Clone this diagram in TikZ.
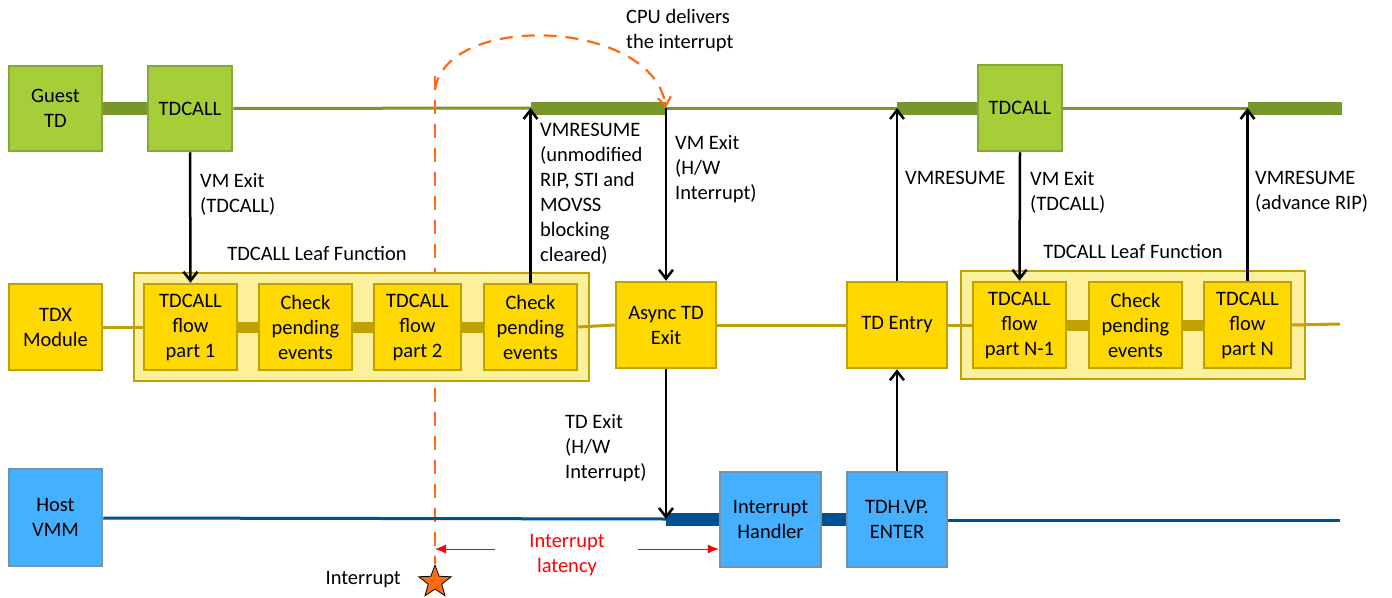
\documentclass[tikz,border=0pt]{standalone}
\usepackage{fontspec}
\setmainfont{Carlito}
\usetikzlibrary{arrows.meta, positioning, shapes.geometric, calc}
\definecolor{guestFill}{HTML}{A6CE39}
\definecolor{guestDraw}{HTML}{86A83A}
\definecolor{guestBar}{HTML}{77962B}
\definecolor{tdxFill}{HTML}{FFD800}
\definecolor{tdxDraw}{HTML}{BFA100}
\definecolor{leafFill}{HTML}{FBF09B}
\definecolor{hostFill}{HTML}{45B0FF}
\definecolor{hostDraw}{HTML}{6E95B0}
\definecolor{hostBar}{HTML}{00518F}
\definecolor{irqOrange}{HTML}{FF6A13}
\tikzset{
  boxG/.style={rectangle, draw=guestDraw, fill=guestFill, line width=2.5pt,
               align=center, inner sep=2pt},
  boxY/.style={rectangle, draw=tdxDraw, fill=tdxFill, line width=2.5pt,
               align=center, inner sep=2pt},
  boxL/.style={rectangle, draw=tdxDraw, fill=leafFill, line width=2.5pt},
  boxH/.style={rectangle, draw=hostDraw, fill=hostFill, line width=2.5pt,
               align=center, inner sep=2pt},
  lineG/.style={guestBar, line width=3pt},
  barG/.style={guestBar, line width=13pt},
  lineY/.style={tdxDraw, line width=3pt},
  barY/.style={tdxDraw, line width=11pt},
  lineH/.style={hostBar, line width=3pt},
  barH/.style={hostBar, line width=13pt},
  arrowK/.style={-{Straight Barb[length=9pt, width=14pt]}, black, line width=2.5pt},
  arrowO/.style={-{Straight Barb[length=9pt, width=13pt]}, irqOrange,
                 line width=2.2pt, dash pattern=on 13pt off 9pt},
  arrowLat/.style={-{Latex[length=11pt, width=9pt]}, red, line width=0.8pt},
  lbl/.style={align=left, inner sep=0pt, anchor=north west},
}

\begin{document}
\begin{tikzpicture}[x=1pt, y=-1pt, font=\fontsize{20.5}{25}\selectfont]
    \useasboundingbox (0,0) rectangle (1392,597);
    % guest TD row
    \coordinate (gA1) at (531,108); \coordinate (gA2) at (666,108);
    \coordinate (gB1) at (897,108); \coordinate (gC1) at (1248,108);
    \coordinate (gEnd) at (1342,108);
    \node[boxG, minimum width=93pt, minimum height=85pt] (guest) at (55.5,108.5) {Guest\\TD};
    \node[boxG, minimum width=84pt, minimum height=85pt] (tdcall1) at (190,108.5) {TDCALL};
    \node[boxG, minimum width=84pt, minimum height=86pt] (tdcall2) at (1020,108) {TDCALL};
    \draw[barG] (guest.east) -- (tdcall1.west);
    \draw[lineG] (tdcall1.east) -- (gA1);
    \draw[lineG] (gA2) -- (gB1);
    \draw[barG] (gA1) -- (gA2);
    \draw[barG] (gB1) -- (tdcall2.west);
    \draw[lineG] (tdcall2.east) -- (gC1);
    \draw[barG] (gC1) -- (gEnd);
    % interrupt line, behind the TDX boxes
    \coordinate (irqTop) at (435,76); \coordinate (irqArc) at (435,90);
    \coordinate (irqBot) at (435,564);
    \draw[irqOrange, line width=2.5pt, dash pattern=on 14pt off 10pt]
      (irqTop) -- (irqBot);
    \draw[arrowO] (irqArc) .. controls (445,12) and (652,18) .. (gA2);
    \node[lbl] (cpu) at (626,9) {CPU delivers\\the interrupt};
    % TDX module row
    \coordinate (tEnd) at (1340,324);
    \node[boxY, minimum width=93pt, minimum height=86pt] (tdx) at (55.5,327) {TDX\\Module};
    \node[boxL, minimum width=455pt, minimum height=108pt] (leaf1) at (361.5,327) {};
    \node[boxL, minimum width=344pt, minimum height=108pt] (leaf2) at (1133,325) {};
    \node[boxY, minimum width=93pt, minimum height=86pt] (l1a) at (190.5,327) {TDCALL\\flow\\part 1};
    \node[boxY, minimum width=93pt, minimum height=86pt] (l1b) at (305.5,327) {Check\\pending\\events};
    \node[boxY, minimum width=87pt, minimum height=86pt] (l1c) at (417.5,327) {TDCALL\\flow\\part 2};
    \node[boxY, minimum width=93pt, minimum height=86pt] (l1d) at (530.5,327) {Check\\pending\\events};
    \node[boxY, minimum width=100pt, minimum height=86pt] (async) at (666,325) {Async TD\\Exit};
    \node[boxY, minimum width=100pt, minimum height=86pt] (tdentry) at (897,325) {TD Entry};
    \node[boxY, minimum width=93pt, minimum height=86pt] (l2a) at (1019.5,325) {TDCALL\\flow\\part N-1};
    \node[boxY, minimum width=93pt, minimum height=86pt] (l2b) at (1135.5,325) {Check\\pending\\events};
    \node[boxY, minimum width=87pt, minimum height=86pt] (l2c) at (1247.5,325) {TDCALL\\flow\\part N};
    \draw[lineY] (tdx.east) -- (l1a.west);
    \draw[barY] (l1a.east) -- (l1b.west);
    \draw[barY] (l1b.east) -- (l1c.west);
    \draw[barY] (l1c.east) -- (l1d.west);
    \draw[lineY] (l1d.east) -- (async.west);
    \draw[lineY] (async.east) -- (tdentry.west);
    \draw[lineY] (tdentry.east) -- (l2a.west);
    \draw[barY] (l2a.east) -- (l2b.west);
    \draw[barY] (l2b.east) -- (l2c.west);
    \draw[lineY] (l2c.east) -- (tEnd);
    \node[inner sep=0pt] (leaf1lbl) at (317,253) {TDCALL Leaf Function};
    \node[inner sep=0pt] (leaf2lbl) at (1133,251) {TDCALL Leaf Function};
    % host row
    \coordinate (hA) at (666,519); \coordinate (hEnd) at (1340,520);
    \node[boxH, minimum width=93pt, minimum height=97pt] (host) at (55.5,517.5) {Host\\VMM};
    \node[boxH, minimum width=101pt, minimum height=95pt] (handler) at (770.5,519.5) {Interrupt\\Handler};
    \node[boxH, minimum width=100pt, minimum height=95pt] (tdh) at (897,519.5) {TDH.VP.\\ENTER};
    \draw[lineH] (host.east |- 0,518) -- (hA);
    \draw[barH] (hA) -- (handler.west |- hA);
    \draw[barH] (handler.east |- hA) -- (tdh.west |- hA);
    \draw[lineH] (tdh.east |- hEnd) -- (hEnd);
    % transitions
    \draw[arrowK] (tdcall1.south) -- (l1a.north);
    \draw[arrowK] (l1d.north) -- (l1d.north |- gA1);
    \draw[arrowK] (gA2) -- (async.north);
    \draw[arrowK] (async.south) -- (hA);
    \draw[arrowK] (tdh.north) -- (tdentry.south);
    \draw[arrowK] (tdentry.north) -- (gB1);
    \draw[arrowK] (tdcall2.south) -- (l2a.north);
    \draw[arrowK] (l2c.north) -- (l2c.north |- gC1);
    \node[lbl] (t1) at (200,173) {VM Exit\\(TDCALL)};
    \node[lbl] (t2) at (540,123) {VMRESUME\\(unmodified\\RIP, STI and\\MOVSS\\blocking\\cleared)};
    \node[lbl] (t3) at (675,135) {VM Exit\\(H/W\\Interrupt)};
    \node[lbl] (t4) at (565,414) {TD Exit\\(H/W\\Interrupt)};
    \node[lbl] (t5) at (905,171) {VMRESUME};
    \node[lbl] (t6) at (1030,171) {VM Exit\\(TDCALL)};
    \node[lbl] (t7) at (1255,171) {VMRESUME\\(advance RIP)};
    % interrupt source and latency
    \node[star, star points=5, star point ratio=2.4, draw=black, fill=irqOrange,
          line width=0.8pt, minimum size=34pt, inner sep=0pt] (irq) at (435,582) {};
    \node[inner sep=0pt, anchor=east] (irqlbl) at (401,580) {Interrupt};
    \node[inner sep=0pt, text=red, align=center] (lat) at (567,555) {Interrupt\\latency};
    \coordinate (latL) at (495,549); \coordinate (latR) at (638,549);
    \draw[arrowLat] (latL) -- (irq.north |- latL);
    \draw[arrowLat] (latR) -- (handler.west |- latR);
\end{tikzpicture}
\end{document}
